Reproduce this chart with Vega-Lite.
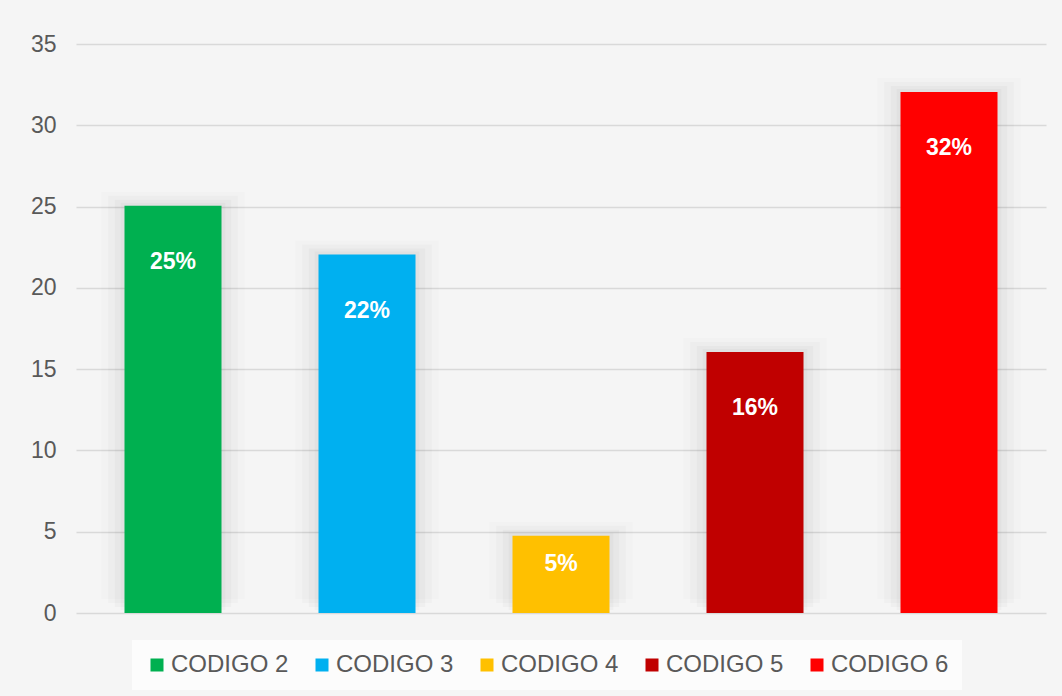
{
  "$schema": "https://vega.github.io/schema/vega-lite/v6.json",
  "autosize": {"type": "none"},
  "width": 970,
  "height": 569,
  "padding": {"left": 76, "top": 44, "right": 16, "bottom": 83},
  "background": "#f5f5f5",
  "config": {
    "font": "Liberation Sans",
    "view": {"stroke": null},
    "axis": {"labelFont": "Liberation Sans", "labelColor": "#595959", "labelFontSize": 23}
  },
  "data": {
    "values": [
      {"codigo": "CODIGO 2", "value": 25.05, "label": "25%"},
      {"codigo": "CODIGO 3", "value": 22.05, "label": "22%"},
      {"codigo": "CODIGO 4", "value": 4.75, "label": "5%"},
      {"codigo": "CODIGO 5", "value": 16.05, "label": "16%"},
      {"codigo": "CODIGO 6", "value": 32.05, "label": "32%"}
    ]
  },
  "encoding": {
    "x": {
      "field": "codigo", "type": "nominal", "sort": null,
      "scale": {"paddingInner": 0, "paddingOuter": 0},
      "axis": null
    },
    "y": {
      "field": "value", "type": "quantitative",
      "scale": {"domain": [0, 35], "nice": false},
      "axis": {
        "values": [0, 5, 10, 15, 20, 25, 30, 35],
        "title": null, "domain": false, "ticks": false,
        "labelPadding": 20,
        "gridColor": "#d9d9d9", "gridWidth": 1.5
      }
    }
  },
  "layer": [
    {
      "mark": {"type": "bar", "width": {"band": 0.74}, "color": "#000000", "opacity": 0.012, "yOffset": -14}
    },
    {
      "mark": {"type": "bar", "width": {"band": 0.67}, "color": "#000000", "opacity": 0.018, "yOffset": -10}
    },
    {
      "mark": {"type": "bar", "width": {"band": 0.6}, "color": "#000000", "opacity": 0.022, "yOffset": -6}
    },
    {
      "mark": {"type": "bar", "width": {"band": 0.54}, "color": "#000000", "opacity": 0.025, "yOffset": -3}
    },
    {
      "mark": {"type": "bar", "width": {"band": 0.5}},
      "encoding": {
        "color": {
          "field": "codigo", "type": "nominal", "sort": null,
          "scale": {"range": ["#00b050", "#00b0f0", "#ffc000", "#c00000", "#ff0000"]},
          "legend": {
            "title": null,
            "orient": "none",
            "legendX": 56,
            "legendY": 596,
            "direction": "horizontal",
            "columns": 5,
            "columnPadding": 21,
            "symbolType": "square",
            "symbolSize": 169,
            "symbolStrokeWidth": 0,
            "labelFontSize": 24,
            "labelColor": "#595959",
            "labelFont": "Liberation Sans",
            "labelOffset": 2,
            "labelLimit": 300,
            "fillColor": "#fcfcfc",
            "padding": 13
          }
        }
      }
    },
    {
      "mark": {"type": "text", "color": "#ffffff", "fontWeight": "bold", "fontSize": 23, "baseline": "middle", "font": "Liberation Sans", "dy": {"expr": "datum.value < 10 ? 28 : 56"}},
      "encoding": {"text": {"field": "label"}}
    }
  ]
}
